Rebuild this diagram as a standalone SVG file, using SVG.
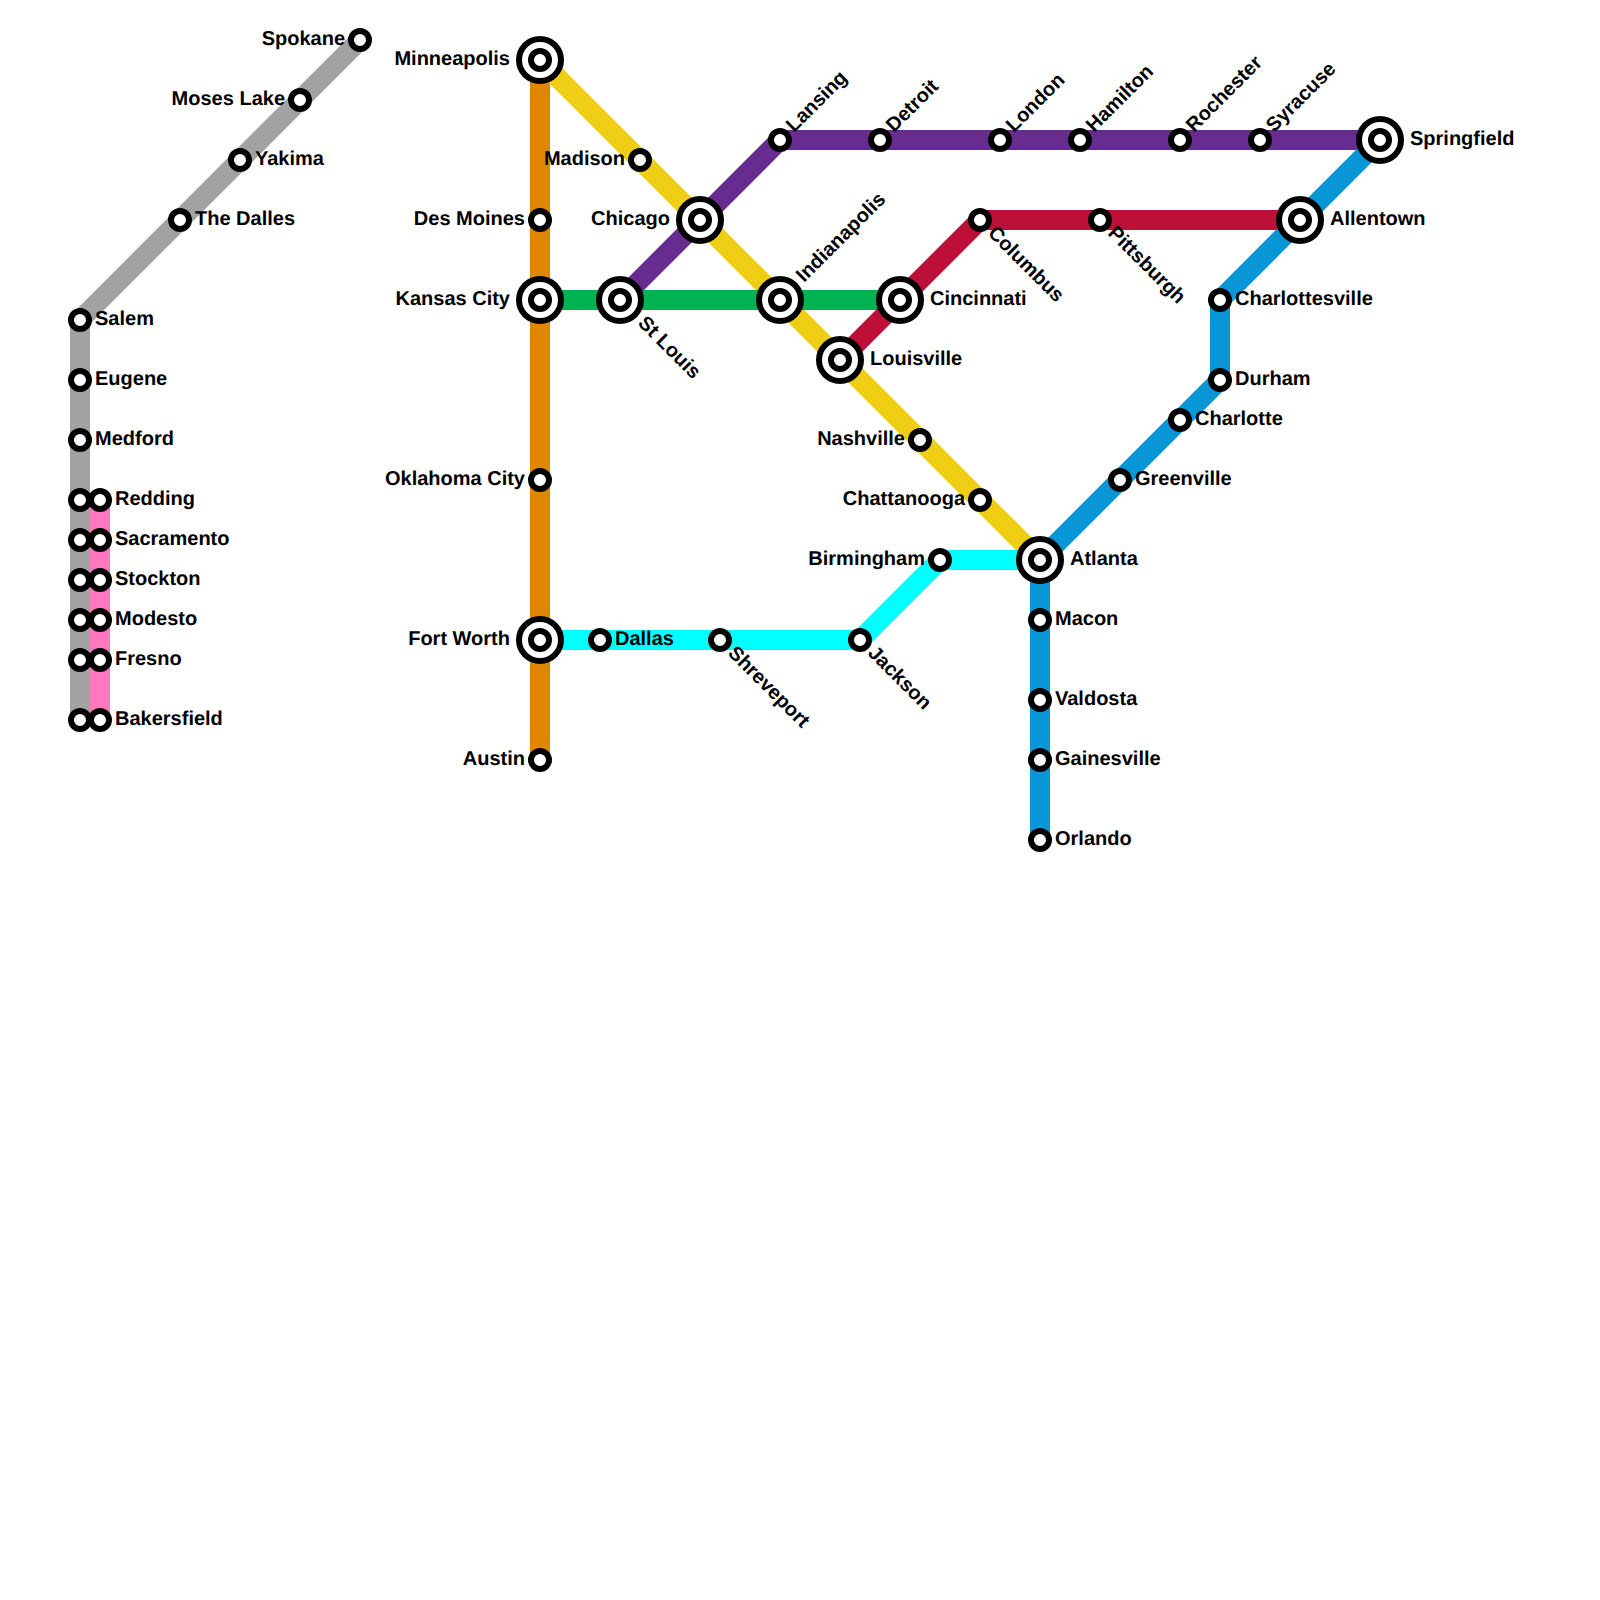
<svg xmlns="http://www.w3.org/2000/svg" width="1600" height="1600" viewBox="0 0 1600 1600">
<style>
text{font-family:"Liberation Sans",Arial,sans-serif;font-weight:bold;font-size:20px;fill:#000;text-rendering:geometricPrecision}
.e{text-anchor:end}
.l{fill:none;stroke-width:20;stroke-linejoin:round}
circle{fill:#fff;stroke:#000;stroke-width:6}
</style>
<defs>
<g id="s"><circle r="9"/></g>
<g id="i"><circle r="21"/><circle r="9"/></g>
</defs>
<rect width="1600" height="1600" fill="#fff"/>
<g id="connectors">
<path class="l" stroke="#a2a2a2" d="M360 40L80 320V720"/>
<path class="l" stroke="#ff78bd" d="M100 500V720"/>
<path class="l" stroke="#df8600" d="M540 60V760"/>
<path class="l" stroke="#f0ce15" d="M540 60L1040 560"/>
<path class="l" stroke="#00b251" d="M540 300H900"/>
<path class="l" stroke="#662c90" d="M620 300L780 140H1380"/>
<path class="l" stroke="#bd1038" d="M840 360L980 220H1300"/>
<path class="l" stroke="#00ffff" d="M540 640H860L940 560H1040"/>
<path class="l" stroke="#0896d7" d="M1380 140L1220 300V380L1040 560V840"/>
</g>
<g id="spokane"><use href="#s" x="360" y="40"/><text class="e" x="345" y="45">Spokane</text></g>
<g id="moses-lake"><use href="#s" x="300" y="100"/><text class="e" x="285" y="105">Moses Lake</text></g>
<g id="yakima"><use href="#s" x="240" y="160"/><text x="255" y="165">Yakima</text></g>
<g id="the-dalles"><use href="#s" x="180" y="220"/><text x="195" y="225">The Dalles</text></g>
<g id="salem"><use href="#s" x="80" y="320"/><text x="95" y="325">Salem</text></g>
<g id="eugene"><use href="#s" x="80" y="380"/><text x="95" y="385">Eugene</text></g>
<g id="medford"><use href="#s" x="80" y="440"/><text x="95" y="445">Medford</text></g>
<g id="gray-500"><use href="#s" x="80" y="500"/></g>
<g id="gray-540"><use href="#s" x="80" y="540"/></g>
<g id="gray-580"><use href="#s" x="80" y="580"/></g>
<g id="gray-620"><use href="#s" x="80" y="620"/></g>
<g id="gray-660"><use href="#s" x="80" y="660"/></g>
<g id="gray-720"><use href="#s" x="80" y="720"/></g>
<g id="redding"><use href="#s" x="100" y="500"/><text x="115" y="505">Redding</text></g>
<g id="sacramento"><use href="#s" x="100" y="540"/><text x="115" y="545">Sacramento</text></g>
<g id="stockton"><use href="#s" x="100" y="580"/><text x="115" y="585">Stockton</text></g>
<g id="modesto"><use href="#s" x="100" y="620"/><text x="115" y="625">Modesto</text></g>
<g id="fresno"><use href="#s" x="100" y="660"/><text x="115" y="665">Fresno</text></g>
<g id="bakersfield"><use href="#s" x="100" y="720"/><text x="115" y="725">Bakersfield</text></g>
<g id="minneapolis"><use href="#i" x="540" y="60"/><text class="e" x="510" y="65">Minneapolis</text></g>
<g id="des-moines"><use href="#s" x="540" y="220"/><text class="e" x="525" y="225">Des Moines</text></g>
<g id="kansas-city"><use href="#i" x="540" y="300"/><text class="e" x="510" y="305">Kansas City</text></g>
<g id="oklahoma-city"><use href="#s" x="540" y="480"/><text class="e" x="525" y="485">Oklahoma City</text></g>
<g id="fort-worth"><use href="#i" x="540" y="640"/><text class="e" x="510" y="645">Fort Worth</text></g>
<g id="austin"><use href="#s" x="540" y="760"/><text class="e" x="525" y="765">Austin</text></g>
<g id="madison"><use href="#s" x="640" y="160"/><text class="e" x="625" y="165">Madison</text></g>
<g id="chicago"><use href="#i" x="700" y="220"/><text class="e" x="670" y="225">Chicago</text></g>
<g id="st-louis"><use href="#i" x="620" y="300"/><text transform="translate(637 324) rotate(45)">St Louis</text></g>
<g id="indianapolis"><use href="#i" x="780" y="300"/><text transform="translate(804 283) rotate(-45)">Indianapolis</text></g>
<g id="louisville"><use href="#i" x="840" y="360"/><text x="870" y="365">Louisville</text></g>
<g id="cincinnati"><use href="#i" x="900" y="300"/><text x="930" y="305">Cincinnati</text></g>
<g id="nashville"><use href="#s" x="920" y="440"/><text class="e" x="905" y="445">Nashville</text></g>
<g id="chattanooga"><use href="#s" x="980" y="500"/><text class="e" x="965" y="505">Chattanooga</text></g>
<g id="atlanta"><use href="#i" x="1040" y="560"/><text x="1070" y="565">Atlanta</text></g>
<g id="lansing"><use href="#s" x="780" y="140"/><text transform="translate(794 133) rotate(-45)">Lansing</text></g>
<g id="detroit"><use href="#s" x="880" y="140"/><text transform="translate(894 133) rotate(-45)">Detroit</text></g>
<g id="london"><use href="#s" x="1000" y="140"/><text transform="translate(1014 133) rotate(-45)">London</text></g>
<g id="hamilton"><use href="#s" x="1080" y="140"/><text transform="translate(1094 133) rotate(-45)">Hamilton</text></g>
<g id="rochester"><use href="#s" x="1180" y="140"/><text transform="translate(1194 133) rotate(-45)">Rochester</text></g>
<g id="syracuse"><use href="#s" x="1260" y="140"/><text transform="translate(1274 133) rotate(-45)">Syracuse</text></g>
<g id="springfield"><use href="#i" x="1380" y="140"/><text x="1410" y="145">Springfield</text></g>
<g id="columbus"><use href="#s" x="980" y="220"/><text transform="translate(987 234) rotate(45)">Columbus</text></g>
<g id="pittsburgh"><use href="#s" x="1100" y="220"/><text transform="translate(1107 234) rotate(45)">Pittsburgh</text></g>
<g id="allentown"><use href="#i" x="1300" y="220"/><text x="1330" y="225">Allentown</text></g>
<g id="dallas"><use href="#s" x="600" y="640"/><text x="615" y="645">Dallas</text></g>
<g id="shreveport"><use href="#s" x="720" y="640"/><text transform="translate(727 654) rotate(45)">Shreveport</text></g>
<g id="jackson"><use href="#s" x="860" y="640"/><text transform="translate(867 654) rotate(45)">Jackson</text></g>
<g id="birmingham"><use href="#s" x="940" y="560"/><text class="e" x="925" y="565">Birmingham</text></g>
<g id="charlottesville"><use href="#s" x="1220" y="300"/><text x="1235" y="305">Charlottesville</text></g>
<g id="durham"><use href="#s" x="1220" y="380"/><text x="1235" y="385">Durham</text></g>
<g id="charlotte"><use href="#s" x="1180" y="420"/><text x="1195" y="425">Charlotte</text></g>
<g id="greenville"><use href="#s" x="1120" y="480"/><text x="1135" y="485">Greenville</text></g>
<g id="macon"><use href="#s" x="1040" y="620"/><text x="1055" y="625">Macon</text></g>
<g id="valdosta"><use href="#s" x="1040" y="700"/><text x="1055" y="705">Valdosta</text></g>
<g id="gainesville"><use href="#s" x="1040" y="760"/><text x="1055" y="765">Gainesville</text></g>
<g id="orlando"><use href="#s" x="1040" y="840"/><text x="1055" y="845">Orlando</text></g>
</svg>
